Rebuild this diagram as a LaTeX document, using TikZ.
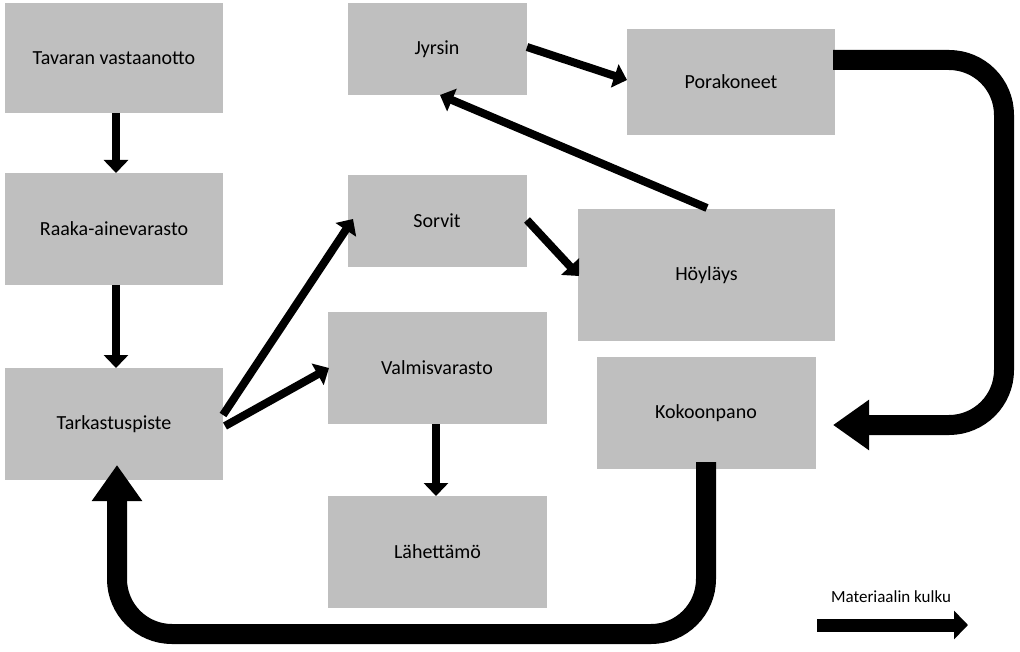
\documentclass[tikz,border=0pt]{standalone}
\usepackage{fontspec}
\setmainfont{Carlito}
\usetikzlibrary{arrows.meta}
\begin{document}
\begin{tikzpicture}[x=1pt,y=-1pt,
  box/.style={fill=black!25,draw=none,inner sep=0pt,font=\fontsize{20}{24}\selectfont},
  thin arrow/.style={line width=8pt,-{Triangle[length=13pt,width=24pt]}},
  big arrow/.style={line width=20pt,rounded corners=55pt,-{Triangle[length=36pt,width=48pt]}}]
\useasboundingbox (0,0) rectangle (1020,652);
\def\bx#1#2#3#4#5#6{\path[box] (#2,#3) rectangle (#4,#5); \node[box,fill=none] (#1) at ({(#2+#4)/2},{(#3+#5)/2}) {#6};}
\bx{tav}{5}{3}{223}{113}{Tavaran vastaanotto}
\bx{raa}{5}{173}{223}{285}{Raaka-ainevarasto}
\bx{tar}{5}{368}{223}{480}{Tarkastuspiste}
\bx{jyr}{348}{3}{527}{95}{}
\node[box,fill=none] (jyrt) at (437,49) {Jyrsin};
\bx{por}{627}{29}{835}{135}{Porakoneet}
\bx{sor}{348}{175}{527}{267}{}
\node[box,fill=none] (sort) at (437,221) {Sorvit};
\bx{hoy}{578}{209}{835}{341}{Höyläys}
\bx{val}{328}{312}{547}{424}{}
\node[box,fill=none] (valt) at (437,368) {Valmisvarasto};
\bx{kok}{597}{357}{816}{469}{}
\node[box,fill=none] (kokt) at (706,413) {Kokoonpano};
\bx{lah}{328}{496}{547}{608}{Lähettämö}
\coordinate (c1) at (116,113); \coordinate (c2) at (116,173);
\draw[thin arrow] (c1) -- (c2);
\coordinate (c3) at (116,285); \coordinate (c4) at (116,368);
\draw[thin arrow] (c3) -- (c4);
\coordinate (t1) at (223,415); \coordinate (s1) at (353,219);
\draw[thin arrow] (t1) -- (s1);
\coordinate (t2) at (225,426); \coordinate (v1) at (329,368);
\draw[thin arrow] (t2) -- (v1);
\coordinate (v2) at (436,424); \coordinate (l1) at (436,496);
\draw[thin arrow] (v2) -- (l1);
\coordinate (j1) at (527,47); \coordinate (p1) at (627,80);
\draw[thin arrow] (j1) -- (p1);
\coordinate (h1) at (707,208); \coordinate (j2) at (440,95);
\draw[thin arrow] (h1) -- (j2);
\coordinate (s2) at (527,220); \coordinate (h2) at (579,276);
\draw[thin arrow] (s2) -- (h2);
\coordinate (p2) at (833,60); \coordinate (k1) at (833,425);
\draw[big arrow] (p2) -- (1004,60) -- (1004,425) -- (k1);
\coordinate (k2) at (706,462); \coordinate (t3) at (117,465);
\draw[big arrow] (k2) -- (706,634) -- (117,634) -- (t3);
\coordinate (la) at (817,625); \coordinate (lb) at (968,625);
\draw[line width=13pt,-{Triangle[length=14pt,width=28pt]}] (la) -- (lb);
\node[box,fill=none,font=\fontsize{17}{20}\selectfont] (leg) at (891,597) {Materiaalin kulku};
\end{tikzpicture}
\end{document}
